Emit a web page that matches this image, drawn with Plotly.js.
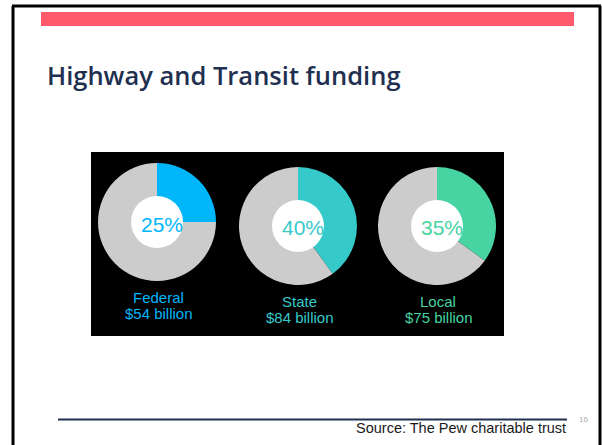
<!DOCTYPE html>
<html>
<head>
<meta charset="utf-8">
<script src="https://cdn.plot.ly/plotly-3.0.1.min.js"></script>
<style>html,body{margin:0;padding:0;background:#fff;}#chart{width:602px;height:445px;}</style>
</head>
<body>
<div id="chart"></div>
<script>
// ---- data ----
var categories = ['Federal', 'State', 'Local'];
var shares = [25, 40, 35];            // percent of highway & transit funding
var amounts = [54, 84, 75];           // $ billion
var shareLabels = ['25%', '40%', '35%'];
var seriesColors = ['#00b6fb', '#36c9c9', '#47d3a2'];
var restColor = '#cccccc';
var sourceText = 'Source: The Pew charitable trust';
var pageNumber = '16';
var chartTitle = 'Highway and Transit funding';

// ---- layout helpers ----
var W = 602, H = 445;
function px(x) { return x / W; }
function py(y) { return 1 - y / H; }
var centers = [[157, 222], [298, 226], [437, 226]];
var R = 59, HOLE = 26;
var labelFont = 'Liberation Sans, Arial, sans-serif';

var traces = [];
var annotations = [];
categories.forEach(function (cat, i) {
  var c = centers[i];
  traces.push({
    type: 'pie',
    values: [shares[i], 100 - shares[i]],
    labels: [cat, 'Other'],
    marker: { colors: [seriesColors[i], restColor], line: { width: 0 } },
    sort: false,
    direction: 'clockwise',
    rotation: 0,
    textinfo: 'none',
    hoverinfo: 'none',
    showlegend: false,
    domain: { x: [px(c[0] - R), px(c[0] + R)], y: [py(c[1] + R), py(c[1] - R)] }
  });
  // white centre disc
  traces.push({
    type: 'pie',
    values: [1],
    labels: [cat + ' centre'],
    marker: { colors: ['#ffffff'], line: { width: 0 } },
    textinfo: 'none',
    hoverinfo: 'none',
    showlegend: false,
    domain: { x: [px(c[0] - HOLE), px(c[0] + HOLE)], y: [py(c[1] + HOLE), py(c[1] - HOLE)] }
  });
  annotations.push({
    xref: 'paper', yref: 'paper',
    x: px(c[0] + 5), y: py(c[1] + 2),
    xanchor: 'center', yanchor: 'middle',
    text: shareLabels[i], showarrow: false,
    font: { family: labelFont, size: 21, color: seriesColors[i] }
  });
  annotations.push({
    xref: 'paper', yref: 'paper',
    x: px(c[0] + 1), y: py(c[1] + 75),
    xanchor: 'center', yanchor: 'middle',
    text: cat, showarrow: false,
    font: { family: labelFont, size: 15, color: seriesColors[i] }
  });
  annotations.push({
    xref: 'paper', yref: 'paper',
    x: px(c[0] + 2), y: py(c[1] + 91),
    xanchor: 'center', yanchor: 'middle',
    text: '$' + amounts[i] + ' billion', showarrow: false,
    font: { family: labelFont, size: 15, color: seriesColors[i] }
  });
});

annotations.push({
  xref: 'paper', yref: 'paper', x: px(568), y: py(428),
  xanchor: 'right', yanchor: 'middle',
  text: sourceText, showarrow: false,
  font: { family: labelFont, size: 14.5, color: '#1a1a1a' }
});
annotations.push({
  xref: 'paper', yref: 'paper', x: px(577), y: py(419),
  xanchor: 'left', yanchor: 'middle',
  text: pageNumber, showarrow: false,
  font: { family: labelFont, size: 8, color: '#aaaaaa' }
});

var shapes = [
  // slide frame
  { type: 'line', xref: 'paper', yref: 'paper', x0: px(13), x1: px(13), y0: py(6), y1: py(450), line: { color: '#000', width: 3 } },
  { type: 'line', xref: 'paper', yref: 'paper', x0: px(12), x1: px(601), y0: py(6), y1: py(6), line: { color: '#000', width: 3 } },
  { type: 'line', xref: 'paper', yref: 'paper', x0: px(600), x1: px(600), y0: py(6), y1: py(450), line: { color: '#000', width: 3 } },
  // red header bar
  { type: 'rect', xref: 'paper', yref: 'paper', x0: px(41), x1: px(574), y0: py(26), y1: py(12), fillcolor: '#ff5a6c', line: { width: 0 } },
  // black panel
  { type: 'rect', xref: 'paper', yref: 'paper', layer: 'below', x0: px(91), x1: px(504), y0: py(336), y1: py(152), fillcolor: '#000000', line: { width: 0 } },
  // footer rule
  { type: 'line', xref: 'paper', yref: 'paper', x0: px(58), x1: px(567), y0: py(419.5), y1: py(419.5), line: { color: '#1f3050', width: 2 } }
];

var layout = {
  width: W, height: H,
  margin: { l: 0, r: 0, t: 0, b: 0 },
  paper_bgcolor: '#ffffff',
  plot_bgcolor: '#ffffff',
  title: {
    text: chartTitle,
    x: px(47), xanchor: 'left', xref: 'paper',
    y: py(76), yanchor: 'middle', yref: 'container',
    font: { family: 'Open Sans, Noto Sans, sans-serif', size: 25.5, weight: 600, color: '#1f3050' }
  },
  shapes: shapes,
  annotations: annotations
};

Plotly.newPlot('chart', traces, layout, { displayModeBar: false, staticPlot: true });
</script>
</body>
</html>
